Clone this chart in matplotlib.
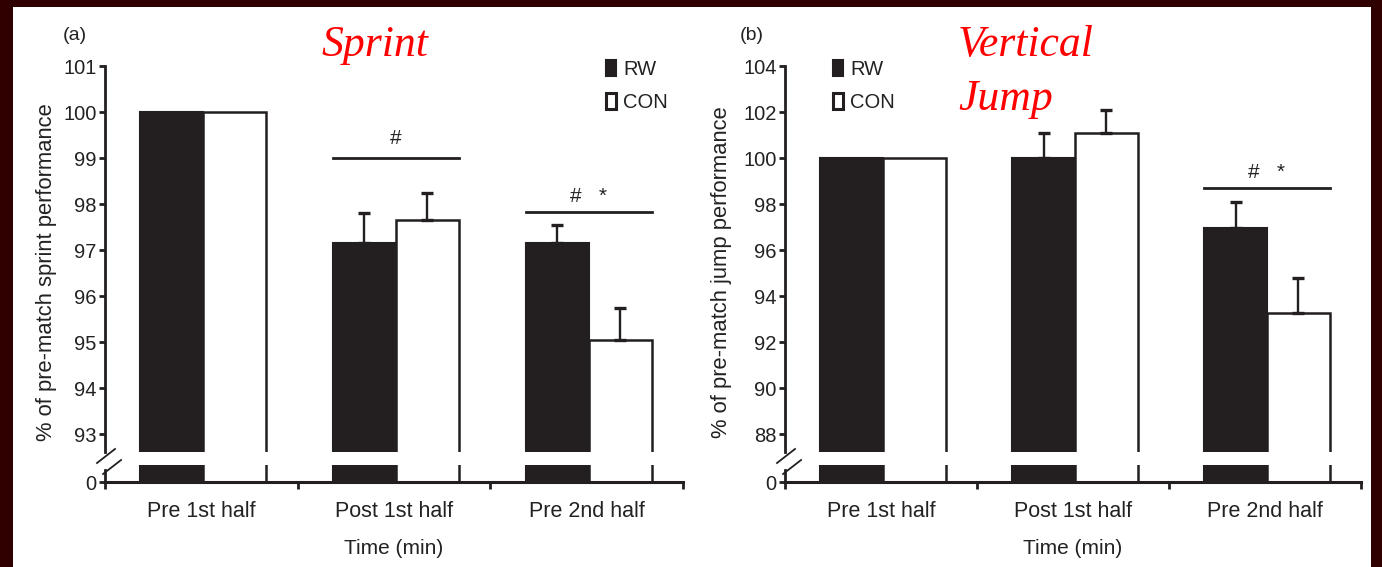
import matplotlib
matplotlib.use('Agg')
import matplotlib.pyplot as plt
from matplotlib.patches import Patch, Rectangle
from matplotlib.lines import Line2D
import numpy as np

plt.rcParams['font.family'] = ['Liberation Sans', 'DejaVu Sans']

# data
groups = ['Pre 1st half', 'Post 1st half', 'Pre 2nd half']
sprint_rw = [100.0, 97.15, 97.15]
sprint_rw_err = [0.0, 0.65, 0.40]
sprint_con = [100.0, 97.65, 95.05]
sprint_con_err = [0.0, 0.58, 0.68]
jump_rw = [100.0, 100.0, 96.95]
jump_rw_err = [0.0, 1.10, 1.13]
jump_con = [100.0, 101.10, 93.25]
jump_con_err = [0.0, 1.00, 1.52]

sprint_ticks = [93, 94, 95, 96, 97, 98, 99, 100, 101]
jump_ticks = [88, 90, 92, 94, 96, 98, 100, 102, 104]

# significance: (group index, line level, text level, text)
sprint_sig = [(1, 99.0, 99.42, '#'), (2, 97.83, 98.17, '#   *')]
jump_sig = [(2, 98.7, 99.38, '#   *')]

W, H = 1382, 567
DARK = '#231f20'
TXT = '#222222'


def px(x, y):
    return x / W, 1 - y / H


fig = plt.figure(figsize=(W / 100, H / 100), dpi=100, facecolor='#300000')
fig.add_artist(Rectangle(px(13, 567), (1371 - 13) / W, (567 - 7) / H,
                         transform=fig.transFigure, facecolor='white', edgecolor='none', zorder=0))


def make_panel(x0, x1, ticks, rw, rw_err, con, con_err, sig):
    left, _ = px(x0, 0)
    width = (x1 - x0) / W
    _, b_top = px(0, 452)
    _, t_top = px(0, 66)
    _, b_low = px(0, 482)
    _, t_low = px(0, 465)
    ax = fig.add_axes([left, b_top, width, t_top - b_top])
    axl = fig.add_axes([left, b_low, width, t_low - b_low])
    for a in (ax, axl):
        a.patch.set_alpha(0)
        a.set_xlim(-0.5, 2.5)
        for s in ['top', 'right']:
            a.spines[s].set_visible(False)
        a.spines['left'].set_linewidth(2)
        a.spines['left'].set_color(DARK)
    x = np.arange(len(groups))
    bw = 0.327
    for a in (ax, axl):
        a.bar(x - bw / 2 + 0.01, rw, bw, color=DARK, edgecolor=DARK, linewidth=1.5)
        a.bar(x + bw / 2 + 0.01, con, bw, color='white', edgecolor=DARK, linewidth=1.8)
    for xs, vals, errs in ((x - bw / 2 + 0.01, rw, rw_err), (x + bw / 2 + 0.01, con, con_err)):
        for xi, v, e in zip(xs, vals, errs):
            if e > 0:
                ax.errorbar(xi, v, yerr=[[0], [e]], fmt='none', ecolor=DARK,
                            elinewidth=1.7, capsize=4, capthick=2.4)
    # upper part: tick spacing 46 px on screen
    step = ticks[1] - ticks[0]
    top = ticks[-1]
    bottom = top - (452 - 66) / 46 * step
    ax.set_ylim(bottom, top)
    ax.set_yticks(ticks)
    ax.set_yticklabels([str(t) for t in ticks])
    ax.spines['bottom'].set_visible(False)
    ax.set_xticks([])
    ax.tick_params(axis='y', direction='out', length=4, width=2, color=DARK,
                   labelsize=14.5, pad=2, labelcolor=TXT)
    for gi, ly, ty, txt in sig:
        ax.plot([gi - bw + 0.01, gi + bw + 0.01], [ly, ly], color=DARK, lw=2)
        ax.text(gi + 0.01, ty, txt, ha='center', va='center', fontsize=15, color=TXT)
    # lower part
    axl.set_ylim(0, 1)
    axl.set_yticks([0])
    axl.set_yticklabels(['0'])
    axl.spines['left'].set_bounds(0, 0.7)
    axl.spines['bottom'].set_linewidth(2.2)
    axl.spines['bottom'].set_color(DARK)
    axl.set_xticks([-0.5, 0.5, 1.5, 2.5])
    axl.set_xticklabels([])
    axl.set_xticks(x, minor=True)
    axl.set_xticklabels(groups, minor=True)
    axl.tick_params(axis='x', which='major', direction='out', length=5, width=2, color=DARK)
    axl.tick_params(axis='x', which='minor', length=0, labelsize=15.5, pad=14,
                    labelcolor=TXT)
    axl.tick_params(axis='y', direction='out', length=4, width=2, color=DARK,
                    labelsize=14.5, pad=2, labelcolor=TXT)
    axl.set_xlabel('Time (min)', fontsize=15, labelpad=12, color=TXT)
    # break marks
    for dy in (0, 11):
        bx0, by0 = px(x0 - 8 + dy * 0.55, 463 + dy)
        bx1, by1 = px(x0 + 10 + dy * 0.55, 449 + dy)
        fig.add_artist(Line2D([bx0, bx1], [by0, by1], transform=fig.transFigure,
                              color=DARK, lw=1.3))
    return ax, axl


make_panel(105, 683, sprint_ticks, sprint_rw, sprint_rw_err,
           sprint_con, sprint_con_err, sprint_sig)
make_panel(785, 1361, jump_ticks, jump_rw, jump_rw_err,
           jump_con, jump_con_err, jump_sig)

# y labels
fig.text(*px(47, 272), '% of pre-match sprint performance', rotation=90,
         ha='center', va='center', fontsize=15.8, color=TXT)
fig.text(*px(722, 272), '% of pre-match jump performance', rotation=90,
         ha='center', va='center', fontsize=15.8, color=TXT)

# panel letters
fig.text(*px(75, 35), '(a)', ha='center', va='center', fontsize=14, color=TXT)
fig.text(*px(752, 35), '(b)', ha='center', va='center', fontsize=14, color=TXT)

# red titles
fig.text(*px(375, 45), 'Sprint', ha='center', va='center', fontsize=31.5,
         family=['Liberation Serif', 'DejaVu Serif'], style='italic', color='#ff0000')
fig.text(*px(958, 45), 'Vertical', ha='left', va='center', fontsize=31.5,
         family=['Liberation Serif', 'DejaVu Serif'], style='italic', color='#ff0000')
fig.text(*px(958, 99), 'Jump', ha='left', va='center', fontsize=31.5,
         family=['Liberation Serif', 'DejaVu Serif'], style='italic', color='#ff0000')

# legends
handles = [Patch(facecolor=DARK, edgecolor=DARK, linewidth=1.5),
           Patch(facecolor='white', edgecolor=DARK, linewidth=2.2)]
for lx in (606, 833):
    fig.legend(handles, ['RW', 'CON'], loc='upper left', bbox_to_anchor=px(lx, 60),
               bbox_transform=fig.transFigure, frameon=False, fontsize=14.5,
               handlelength=0.5, handleheight=0.8, handletextpad=0.35,
               labelspacing=0.7, borderpad=0, borderaxespad=0, labelcolor=TXT)

fig.savefig('out.png', dpi=100, facecolor=fig.get_facecolor())
